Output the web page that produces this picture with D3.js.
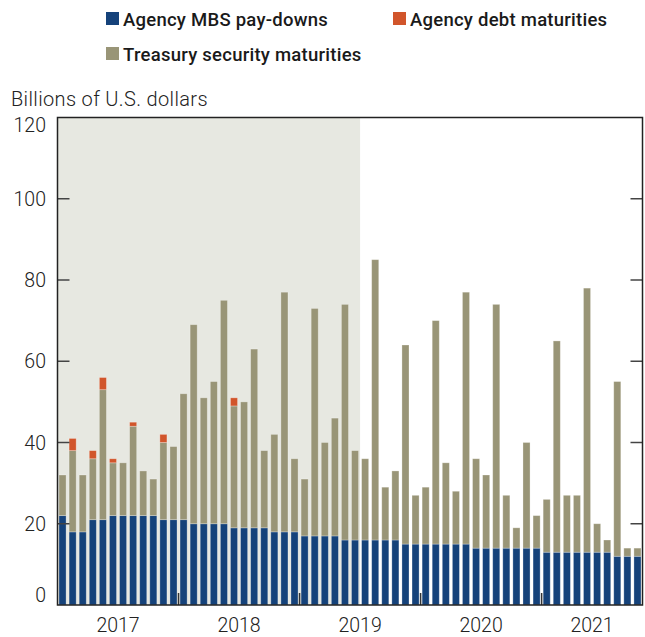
<!DOCTYPE html>
<html lang="en">
<head>
<meta charset="utf-8">
<title>Maturing securities</title>
<style>
body { margin: 0; background: #fff; font-family: Roboto, "Open Sans", sans-serif; }
.legend text { font-size: 18.5px; font-weight: 500; fill: #1a1a1a; letter-spacing: 0.25px; }
.tick-label { font-size: 19.5px; font-weight: 300; fill: #222; }
.unit { font-size: 20px; font-weight: 300; fill: #222; letter-spacing: 0.35px; }
</style>
</head>
<body>
<script src="https://d3js.org/d3.v7.min.js"></script>
<script>

// monthly, Jan 2017 - Oct 2021
var months = d3.timeMonth.range(new Date(2017, 0, 1), new Date(2021, 10, 1));

var mbs = [22,18,18,21,21,22,22,22,22,22,21,21,
           21,20,20,20,20,19,19,19,19,18,18,18,
           17,17,17,17,16,16,16,16,16,16,15,15,
           15,15,15,15,15,14,14,14,14,14,14,14,
           13,13,13,13,13,13,13,12,12,12];

var treasury = [10,20,14,15,32,13,13,22,11,9,19,18,
                31,49,31,35,55,30,31,44,19,24,59,18,
                14,56,23,29,58,22,20,69,13,17,49,12,
                14,55,20,13,62,22,18,60,13,5,26,8,
                13,52,14,14,65,7,3,43,2,2];

var agency = [0,3,0,2,3,1,0,1,0,0,2,0,
              0,0,0,0,0,2,0,0,0,0,0,0,
              0,0,0,0,0,0,0,0,0,0,0,0,
              0,0,0,0,0,0,0,0,0,0,0,0,
              0,0,0,0,0,0,0,0,0,0];

var years = [2017, 2018, 2019, 2020, 2021];
var yTicks = [0, 20, 40, 60, 80, 100, 120];
var shadeEnd = new Date(2019, 6, 1);   // shaded period ends here

var seriesNames = ["Agency MBS pay-downs", "Treasury security maturities", "Agency debt maturities"];
var colors = { "Agency MBS pay-downs": "#15427a",
               "Treasury security maturities": "#999577",
               "Agency debt maturities": "#d1552b" };

var W = 645, H = 637;
var mLeft = 57.5, mRight = 642.5, mTop = 117.5, mBottom = 605;

var svg = d3.select("body").append("svg")
    .attr("width", W)
    .attr("height", H);

var x = d3.scaleBand()
    .domain(months.map(function(d) { return +d; }))
    .range([mLeft, mRight])
    .paddingInner(0.3)
    .paddingOuter(0.15);

var y = d3.scaleLinear().domain([0, 120]).range([mBottom, mTop]);

var gap = x.step() * x.paddingInner() / 2;

// shaded background
svg.append("rect")
    .attr("x", mLeft)
    .attr("y", mTop)
    .attr("width", x(+shadeEnd) - gap - mLeft)
    .attr("height", mBottom - mTop)
    .attr("fill", "#e7e8e1");

// stack
var table = months.map(function(d, i) {
    return { month: +d,
             "Agency MBS pay-downs": mbs[i],
             "Treasury security maturities": treasury[i],
             "Agency debt maturities": agency[i] };
});
var stacked = d3.stack().keys(seriesNames)(table);

svg.append("g").selectAll("g")
    .data(stacked)
    .join("g")
      .attr("fill", function(d) { return colors[d.key]; })
    .selectAll("rect")
    .data(function(d) { return d.filter(function(p) { return p[1] > p[0]; }); })
    .join("rect")
      .attr("x", function(d) { return x(d.data.month); })
      .attr("width", x.bandwidth())
      .attr("y", function(d) { return y(d[1]); })
      .attr("height", function(d) { return y(d[0]) - y(d[1]); })
      .attr("stroke", "#ffffff")
      .attr("stroke-opacity", 0.35)
      .attr("stroke-width", 0.8);

// y ticks, inward on both sides
var tg = svg.append("g");
yTicks.forEach(function(t) {
    if (t > 0 && t < 120) {
        tg.append("line").attr("x1", mLeft).attr("x2", mLeft + 12)
            .attr("y1", y(t)).attr("y2", y(t))
            .attr("stroke", "#444").attr("stroke-width", 1.5);
        tg.append("line").attr("x1", mRight - 12).attr("x2", mRight)
            .attr("y1", y(t)).attr("y2", y(t))
            .attr("stroke", "#444").attr("stroke-width", 1.5);
    }
    // end labels are nudged inside the frame
    var dy = t === 120 ? 14.5 : (t === 0 ? -3 : 7);
    tg.append("text")
        .attr("class", "tick-label")
        .attr("x", 46)
        .attr("y", y(t) + dy)
        .attr("text-anchor", "end")
        .text(t);
});

// year ticks and labels
years.forEach(function(yr) {
    var start = new Date(yr, 0, 1), end = new Date(yr + 1, 0, 1);
    var a = +start <= +months[0] ? mLeft : x(+start) - gap;
    var b = +end > +months[months.length - 1] ? mRight : x(+end) - gap;
    if (+start > +months[0]) {
        tg.append("line").attr("x1", a).attr("x2", a)
            .attr("y1", mBottom - 12).attr("y2", mBottom)
            .attr("stroke", "#333").attr("stroke-width", 1.5);
    }
    tg.append("text")
        .attr("class", "tick-label")
        .attr("x", (a + b) / 2)
        .attr("y", 632)
        .attr("text-anchor", "middle")
        .text(yr);
});

// frame
svg.append("rect")
    .attr("x", mLeft).attr("y", mTop)
    .attr("width", mRight - mLeft).attr("height", mBottom - mTop)
    .attr("fill", "none")
    .attr("stroke", "#222")
    .attr("stroke-width", 1.5);

svg.append("text")
    .attr("class", "unit")
    .attr("x", 11)
    .attr("y", 106)
    .text("Billions of U.S. dollars");

// legend
var legendItems = [
    { name: "Agency MBS pay-downs", x: 106, y: 12 },
    { name: "Agency debt maturities", x: 393, y: 12 },
    { name: "Treasury security maturities", x: 106, y: 47 }
];
var lg = svg.append("g").attr("class", "legend");
legendItems.forEach(function(d) {
    lg.append("rect").attr("x", d.x).attr("y", d.y)
        .attr("width", 13).attr("height", 13)
        .attr("fill", colors[d.name]);
    lg.append("text").attr("x", d.x + 17).attr("y", d.y + 14)
        .text(d.name);
});

</script>
</body>
</html>
